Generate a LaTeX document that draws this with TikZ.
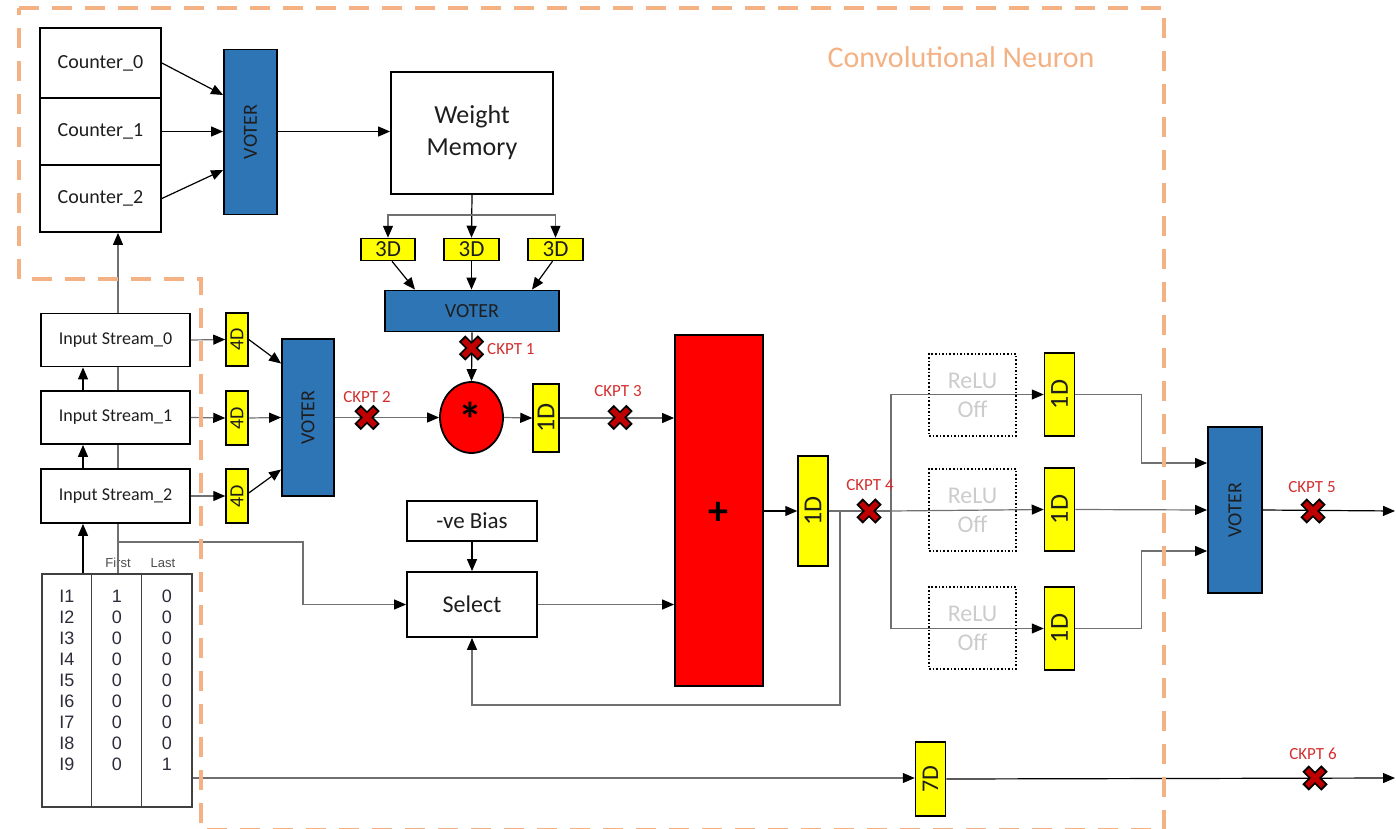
\documentclass[tikz,border=0pt]{standalone}
\usepackage{fontspec}
\usepackage{graphicx}
\setmainfont{Carlito}
\newfontfamily\arialfont{Liberation Sans}
\usetikzlibrary{arrows.meta,shapes.geometric,calc}
\definecolor{vblue}{HTML}{2E75B6}
\definecolor{dyel}{HTML}{FFFF00}
\definecolor{addred}{HTML}{FF0000}
\definecolor{ckred}{HTML}{C00000}
\definecolor{cklab}{HTML}{D32F2F}
\definecolor{bound}{HTML}{F4B183}
\definecolor{wiregray}{HTML}{707070}
\definecolor{txt}{HTML}{1E1E1E}
\definecolor{tabtxt}{HTML}{2B2B3A}

\begin{document}
\begin{tikzpicture}[x=1pt,y=-1pt,
  fs/.style={font=\fontsize{#1}{#1}\selectfont},
  blk/.style={draw=black, line width=1.8pt, fill=white, text=txt, inner sep=0pt, align=center},
  voterbox/.style={draw=black, line width=1.8pt, fill=vblue, text=txt, inner sep=0pt, fs=20},
  dly/.style={draw=black, line width=1.5pt, fill=dyel, text=txt, inner sep=0pt},
  relubox/.style={draw=black, dotted, line width=1.6pt, text=black!20, inner sep=0pt,
    align=center, font=\fontsize{24}{29}\selectfont, minimum width=87, minimum height=82},
  wire/.style={draw=wiregray, line width=1.2pt},
  bwire/.style={draw=black, line width=1.2pt},
  arr/.style={-{Triangle[length=12pt,width=10pt,color=black]}},
  ckl/.style={text=cklab, fs=17, inner sep=0pt},
  tabcell/.style={font=\arialfont\fontsize{18}{18}\selectfont, text=tabtxt, inner sep=0pt},
  tabhead/.style={font=\arialfont\fontsize{13}{13}\selectfont, text=black!70, inner sep=0pt},
  ckpt/.pic={
    \draw[black, line width=9pt] (-9.5,-9.5) -- (9.5,9.5) (-9.5,9.5) -- (9.5,-9.5);
    \draw[ckred, line width=5.5pt] (-8,-8) -- (8,8) (-8,8) -- (8,-8);
  }
]
\useasboundingbox (0,0) rectangle (1396,829);

% ---------- counters and first voter ----------
\node[blk, fs=20, minimum width=121, minimum height=70] (c0) at (100.5,63) {Counter\_0};
\node[blk, fs=20, minimum width=121, minimum height=67] (c1) at (100.5,131.5) {Counter\_1};
\node[blk, fs=20, minimum width=121, minimum height=67] (c2) at (100.5,198.5) {Counter\_2};
\node[voterbox, minimum width=53, minimum height=165] (v1) at (250.5,132) {\rotatebox{90}{VOTER}};

% ---------- weight memory branch ----------
\node[blk, font=\fontsize{26}{32}\selectfont, minimum width=162, minimum height=122] (wm) at (472,133) {Weight\\Memory};
\node[dly, fs=23, minimum width=54, minimum height=22] (d3a) at (388,249.5) {3D};
\node[dly, fs=23, minimum width=55, minimum height=22] (d3b) at (471.5,249.5) {3D};
\node[dly, fs=23, minimum width=55, minimum height=22] (d3c) at (555.5,249.5) {3D};
\node[voterbox, minimum width=174, minimum height=41] (v2) at (472,311) {VOTER};

% ---------- input streams ----------
\node[blk, fs=18, minimum width=149, minimum height=53] (is0) at (115.5,340) {Input Stream\_0};
\node[blk, fs=18, minimum width=149, minimum height=53] (is1) at (115.5,417.5) {Input Stream\_1};
\node[blk, fs=18, minimum width=149, minimum height=54] (is2) at (115.5,496) {Input Stream\_2};
\node[dly, fs=20, minimum width=22, minimum height=53] (d4a) at (237,339.5) {\rotatebox{90}{4D}};
\node[dly, fs=20, minimum width=22, minimum height=54] (d4b) at (237,418) {\rotatebox{90}{4D}};
\node[dly, fs=20, minimum width=22, minimum height=54] (d4c) at (237,496) {\rotatebox{90}{4D}};
\node[voterbox, minimum width=52, minimum height=157] (v4) at (308,417.5) {\rotatebox{90}{VOTER}};

% ---------- multiply, add ----------
\node[draw=black, line width=1.8pt, fill=addred, ellipse, minimum width=63, minimum height=71, inner sep=0pt] (mul) at (471.5,417.5) {};
\node[font=\bfseries\fontsize{48}{48}\selectfont, inner sep=0pt, anchor=base] (multxt) at (470.5,436) {*};
\node[dly, fs=26, minimum width=26, minimum height=68] (d1a) at (546,418) {\rotatebox{90}{1D}};
\node[draw=black, line width=1.8pt, fill=addred, minimum width=88, minimum height=351, inner sep=0pt] (add) at (719,510.5) {};
\node[font=\bfseries\fontsize{40}{40}\selectfont, inner sep=0pt] (addtxt) at (718,513) {+};
\node[dly, fs=26, minimum width=30, minimum height=110] (d1b) at (813,511) {\rotatebox{90}{1D}};

% ---------- bias and select ----------
\node[blk, fs=23, minimum width=130, minimum height=40] (bias) at (472,521) {-ve Bias};
\node[blk, fs=24, minimum width=130, minimum height=65] (sel) at (472,604.5) {Select};

% ---------- ReLU lanes and final voter ----------
\node[relubox] (r1) at (972.5,395) {ReLU\\Off};
\node[relubox] (r2) at (972.5,510) {ReLU\\Off};
\node[relubox] (r3) at (972.5,628) {ReLU\\Off};
\node[dly, fs=26, minimum width=30, minimum height=83] (d1c) at (1059.5,394.5) {\rotatebox{90}{1D}};
\node[dly, fs=26, minimum width=30, minimum height=83] (d1d) at (1059.5,509.5) {\rotatebox{90}{1D}};
\node[dly, fs=26, minimum width=30, minimum height=83] (d1e) at (1059.5,628.5) {\rotatebox{90}{1D}};
\node[voterbox, minimum width=54, minimum height=166] (v3) at (1235,510) {\rotatebox{90}{VOTER}};

% ---------- first/last flag table ----------
\node[draw=black!75, line width=1.2pt, minimum width=150, minimum height=233, inner sep=0pt] (tbl) at (117,690.5) {};
\draw[black!75, line width=1.2pt]
  ($(tbl.north west)+(50,0)$) -- ($(tbl.south west)+(50,0)$)
  ($(tbl.north west)+(100,0)$) -- ($(tbl.south west)+(100,0)$);
\node[tabhead] (hfirst) at (118,563) {First};
\node[tabhead] (hlast) at (163,563) {Last};
\foreach \f/\l [count=\i] in {1/0,0/0,0/0,0/0,0/0,0/0,0/0,0/0,0/1}{
  \node[tabcell] (ti\i) at (67,{575+21*\i}) {I\i};
  \node[tabcell] (tf\i) at (117,{575+21*\i}) {\f};
  \node[tabcell] (tl\i) at (167,{575+21*\i}) {\l};
}
\node[dly, fs=24, minimum width=30, minimum height=74] (d7) at (930.5,779) {\rotatebox{90}{7D}};

% ---------- free ends and junctions ----------
\coordinate (jw) at ($(wm.south)+(0,20)$);
\coordinate (ck1) at (471.5,348);
\coordinate (ck2) at (367,417.5);
\coordinate (ck3) at (620,417.5);
\coordinate (ck4) at (869,511);
\coordinate (ck5) at (1313,511);
\coordinate (ck6) at (1315,778);
\coordinate (jf) at (840,511);
\coordinate (jr) at (891,511);
\coordinate (out1) at (1395,511);
\coordinate (out2) at (1395,778);
\coordinate (iu) at ($(is0.north)+(2.5,0)$);
\coordinate (sb) at ($(is2.south)+(2.5,18)$);
\coordinate (tx) at ($(tbl.north)+(-34,0)$);
\coordinate (tr) at ($(tbl.east)+(0,87.5)$);

% ---------- connectors ----------
\draw[bwire,arr] (c0.east) -- ($(v1.west)+(0,-37)$);
\draw[bwire,arr] (c1.east) -- (c1.east -| v1.west);
\draw[bwire,arr] (c2.east) -- ($(v1.west)+(0,38)$);
\draw[bwire,arr] (v1.east |- c1.east) -- (c1.east -| wm.west);

\draw[bwire,arr] (wm.south) -- (d3b.north);
\draw[wire,arr] (jw) -| (d3a.north);
\draw[wire,arr] (jw) -| (d3c.north);
\draw[bwire,arr] ($(d3a.south)+(4,0)$) -- ($(v2.north)+(-57,0)$);
\draw[bwire,arr] (d3b.south) -- (d3b.south |- v2.north);
\draw[bwire,arr] ($(d3c.south)+(-3,0)$) -- ($(v2.north)+(60,0)$);
\draw[bwire,arr] (v2.south) -- (mul.north);

\draw[wire,arr] (iu) -- (iu |- c2.south);
\draw[wire] ($(is1.north)+(2.5,0)$) -- ($(is0.south)+(2.5,0)$);
\draw[wire] ($(is2.north)+(2.5,0)$) -- ($(is1.south)+(2.5,0)$);
\draw[bwire,arr] ($(is1.north)+(-32.5,0)$) -- ($(is0.south)+(-32.5,0)$);
\draw[bwire,arr] ($(is2.north)+(-32.5,0)$) -- ($(is1.south)+(-32.5,0)$);
\draw[bwire,arr] (tx) -- (tx |- is2.south);
\draw[wire] ($(is2.south)+(2.5,0)$) -- ($(tbl.north)+(1,0)$);
\draw[wire,arr] (sb) -- ++(185,0) |- (sel.west);

\draw[wire,arr] (is0.east) -- (d4a.west);
\draw[wire,arr] (is1.east) -- (d4b.west);
\draw[wire,arr] (is2.east) -- (d4c.west);
\draw[bwire,arr] (d4a.east) -- ($(v4.west)+(0,-54)$);
\draw[wire,arr] (d4b.east) -- (v4.west);
\draw[bwire,arr] ($(d4c.east)+(0,-3)$) -- ($(v4.west)+(0,52)$);

\draw[wire,arr] (v4.east) -- (mul.west);
\draw[wire,arr] (mul.east) -- (d1a.west);
\draw[wire,arr] (d1a.east) -- (d1a.east -| add.west);
\draw[bwire,arr] (bias.south) -- (sel.north);
\draw[wire,arr] (sel.east) -- (sel.east -| add.west);
\draw[bwire,arr] (add.east |- d1b.west) -- (d1b.west);

\draw[wire] (d1b.east) -- (jr);
\draw[wire,arr] (jf) -- ++(0,194) -| (sel.south);
\draw[wire,arr] (jr) |- (d1c.west);
\draw[wire,arr] (jr) -- (d1d.west);
\draw[wire,arr] (jr) |- (d1e.west);
\draw[wire,arr] (d1c.east) -- ++(66,0) |- ($(v3.west)+(0,-47)$);
\draw[wire,arr] (d1d.east) -- (v3.west);
\draw[wire,arr] (d1e.east) -- ++(66,0) |- ($(v3.west)+(0,41)$);
\draw[bwire,arr] (v3.east) -- (out1);

\draw[wire,arr] (tr) -- (tr -| d7.west);
\draw[bwire,arr] (d7.east) -- (out2);

% ---------- checkpoints ----------
\pic at (ck1) {ckpt};
\pic at (ck2) {ckpt};
\pic at (ck3) {ckpt};
\pic at (ck4) {ckpt};
\pic at (ck5) {ckpt};
\pic at (ck6) {ckpt};
\node[ckl, anchor=west] (lk1) at (487,349) {CKPT 1};
\node[ckl] (lk2) at (367,397) {CKPT 2};
\node[ckl] (lk3) at (618,391) {CKPT 3};
\node[ckl] (lk4) at (870,485) {CKPT 4};
\node[ckl] (lk5) at (1312,487) {CKPT 5};
\node[ckl] (lk6) at (1313,754) {CKPT 6};

% ---------- neuron boundary ----------
\draw[bound, line width=4pt, dash pattern=on 20pt off 13pt]
  (19,8) -- (1164,8) -- (1164,830) -- (201,830) -- (201,279) -- (19,279) -- cycle;
\node[text=bound, fs=30, inner sep=0pt] (title) at (961,57) {Convolutional Neuron};
\end{tikzpicture}
\end{document}
